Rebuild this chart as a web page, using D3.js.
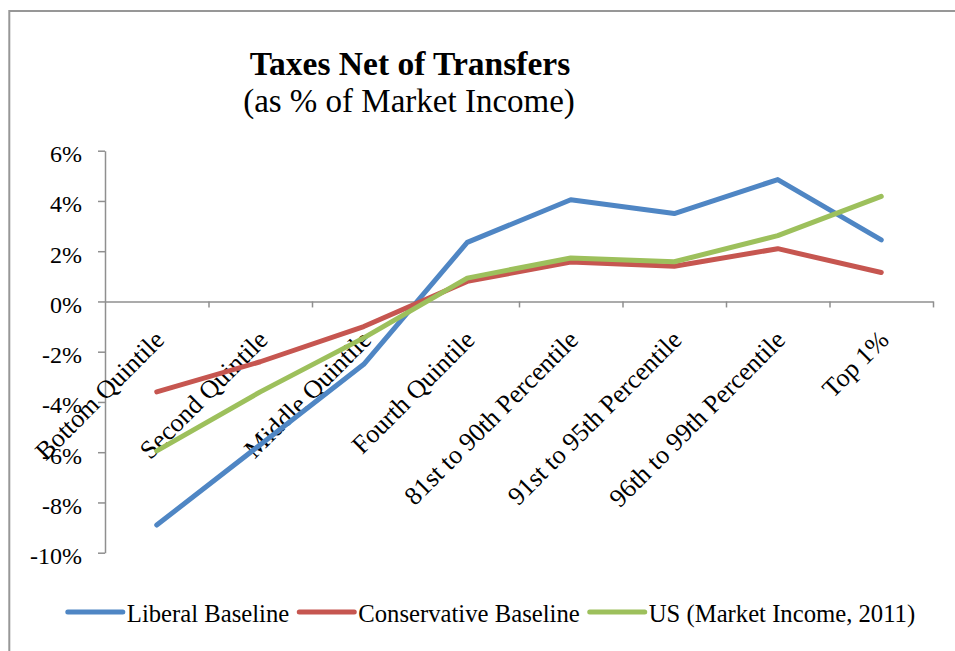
<!DOCTYPE html>
<html>
<head>
<meta charset="utf-8">
<script src="https://cdn.jsdelivr.net/npm/d3@7"></script>
<style>
  html, body { margin: 0; padding: 0; background: #fff; }
  svg { display: block; }
  text { font-family: "Liberation Serif", "DejaVu Serif", serif; fill: #000; }
</style>
</head>
<body>
<svg id="chart" width="955" height="651"></svg>
<script>
// ---- Data ----
const categories = [
  "Bottom Quintile", "Second Quintile", "Middle Quintile", "Fourth Quintile",
  "81st to 90th Percentile", "91st to 95th Percentile", "96th to 99th Percentile", "Top 1%"
];
const seriesNames = ["Liberal Baseline", "Conservative Baseline", "US (Market Income, 2011)"];
const liberalBaseline      = [-8.9, -5.7, -2.5, 2.35, 4.05, 3.5, 4.85, 2.45];
const conservativeBaseline = [-3.6, -2.4, -1.0, 0.8, 1.57, 1.4, 2.1, 1.15];
const usMarketIncome       = [-5.95, -3.6, -1.45, 0.93, 1.73, 1.58, 2.62, 4.18];
const yTicks = [-10, -8, -6, -4, -2, 0, 2, 4, 6];
const seriesColors = ["#4F86C4", "#C65650", "#9DC05C"];
const titleText = "Taxes Net of Transfers";
const subtitleText = "(as % of Market Income)";

// ---- Layout ----
const svg = d3.select("#chart");
const plot = { left: 105, right: 933, top: 150.7, bottom: 552.7 };

const x = d3.scaleBand().domain(categories).range([plot.left, plot.right]).padding(0);
const xEdge = d3.scaleLinear().domain([0, categories.length]).range([plot.left, plot.right]);
const y = d3.scaleLinear().domain([-10, 6]).range([plot.bottom, plot.top]);

// frame
svg.append("path")
  .attr("d", `M9.3,651 L9.3,11 L955,11`)
  .attr("fill", "none").attr("stroke", "#979797").attr("stroke-width", 2);

// title
svg.append("text").attr("x", 410).attr("y", 75).attr("text-anchor", "middle")
  .style("font-weight", "bold").style("font-size", "33.5px").text(titleText);
svg.append("text").attr("x", 409).attr("y", 112).attr("text-anchor", "middle")
  .style("font-size", "33px").text(subtitleText);

// y axis
const yAxis = d3.axisLeft(y).tickValues(yTicks).tickSize(7).tickSizeOuter(0)
  .tickFormat(d => d + "%");
const gy = svg.append("g").attr("transform", `translate(${plot.left},0)`).call(yAxis);
gy.select(".domain").attr("stroke", "#8f8f8f").attr("stroke-width", 1.5);
gy.selectAll(".tick line").attr("stroke", "#8f8f8f").attr("stroke-width", 1.5);
gy.selectAll(".tick text")
  .attr("x", -23).attr("dy", "0.45em")
  .style("font-size", "24px").style("font-family", "'Liberation Serif', serif").attr("fill", "#000");

// x axis at 0 (ticks on category boundaries)
const xAxis = d3.axisBottom(xEdge).tickValues(d3.range(1, categories.length + 1))
  .tickSize(6).tickSizeOuter(0).tickFormat("");
const gx = svg.append("g").attr("transform", `translate(0,${y(0)})`).call(xAxis);
gx.select(".domain").attr("stroke", "#8f8f8f").attr("stroke-width", 1.5);
gx.selectAll(".tick line").attr("stroke", "#8f8f8f").attr("stroke-width", 1.5);

// category labels (rotated)
svg.append("g").selectAll("text").data(categories).join("text")
  .attr("text-anchor", "end")
  .attr("transform", d => `translate(${x(d) + x.bandwidth() / 2 + 9},${y(0) + 40}) rotate(-45)`)
  .style("font-size", "26px")
  .text(d => d);

// lines
const allSeries = [liberalBaseline, conservativeBaseline, usMarketIncome];
const line = d3.line()
  .x((d, i) => x(categories[i]) + x.bandwidth() / 2)
  .y(d => y(d));
svg.append("g").selectAll("path").data(allSeries).join("path")
  .attr("d", d => line(d))
  .attr("fill", "none")
  .attr("stroke", (d, i) => seriesColors[i])
  .attr("stroke-width", 5)
  .attr("stroke-linejoin", "round")
  .attr("stroke-linecap", "round");

// legend
const legY = 612;
const lg = svg.append("g");
const items = lg.selectAll("g").data(seriesNames).join("g");
items.append("line").attr("x1", 0).attr("x2", 55).attr("y1", 0).attr("y2", 0)
  .attr("stroke", (d, i) => seriesColors[i]).attr("stroke-width", 5).attr("stroke-linecap", "round");
items.append("text").attr("x", 59).attr("y", 9.5).style("font-size", "24.7px").text(d => d);
let cx = 0;
const positions = [];
items.each(function () {
  const w = 59 + this.querySelector("text").getComputedTextLength();
  positions.push(cx);
  cx += w + 10;
});
const totalW = cx - 10;
const startX = 491.5 - totalW / 2;
items.attr("transform", (d, i) => `translate(${startX + positions[i]},${legY})`);
</script>
</body>
</html>
